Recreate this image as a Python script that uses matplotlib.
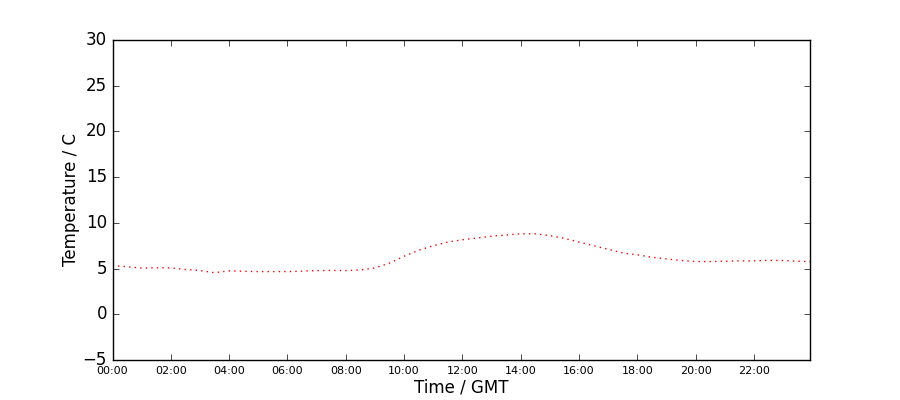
import matplotlib
matplotlib.use('Agg')
import matplotlib.pyplot as plt
import matplotlib.dates as mdates
import numpy as np
from datetime import datetime, timedelta

plt.style.use('classic')

# Half-hourly readings, 00:00 .. 23:30 plus final reading at 23:55
times = ['00:00', '00:30', '01:00', '01:30', '02:00', '02:30', '03:00', '03:30',
         '04:00', '04:30', '05:00', '05:30', '06:00', '06:30', '07:00', '07:30',
         '08:00', '08:30', '09:00', '09:30', '10:00', '10:30', '11:00', '11:30',
         '12:00', '12:30', '13:00', '13:30', '14:00', '14:30', '15:00', '15:30',
         '16:00', '16:30', '17:00', '17:30', '18:00', '18:30', '19:00', '19:30',
         '20:00', '20:30', '21:00', '21:30', '22:00', '22:30', '23:00', '23:30',
         '23:55']
temps = [5.33, 5.2, 5.05, 5.1, 5.07, 4.9, 4.78, 4.55,
         4.75, 4.7, 4.67, 4.67, 4.67, 4.72, 4.78, 4.8,
         4.78, 4.85, 5.07, 5.6, 6.35, 7.0, 7.5, 7.9,
         8.15, 8.35, 8.54, 8.68, 8.8, 8.8, 8.6, 8.3,
         7.9, 7.5, 7.1, 6.7, 6.5, 6.24, 6.06, 5.88,
         5.77, 5.77, 5.8, 5.84, 5.84, 5.9, 5.88, 5.8,
         5.77]

day = datetime(2012, 1, 1)
x = [day + timedelta(hours=int(t[:2]), minutes=int(t[3:])) for t in times]

fig = plt.figure(figsize=(9, 4), dpi=100)
fig.subplots_adjust(left=0.125, right=0.9, bottom=0.1, top=0.9)
ax = fig.add_subplot(111)

ax.plot(x, temps, 'r:')
ax.set_xlim(x[0], x[-1])
ax.set_ylim(-5, 30)

ax.xaxis.set_major_locator(mdates.HourLocator(interval=2))
ax.xaxis.set_major_formatter(mdates.DateFormatter('%H:%M'))
ax.tick_params(axis='x', labelsize=8)
ax.tick_params(axis='y', labelsize=12)

ax.set_xlabel('Time / GMT', labelpad=2)
ax.set_ylabel('Temperature / C', labelpad=2)

fig.savefig('out.png', dpi=100)
